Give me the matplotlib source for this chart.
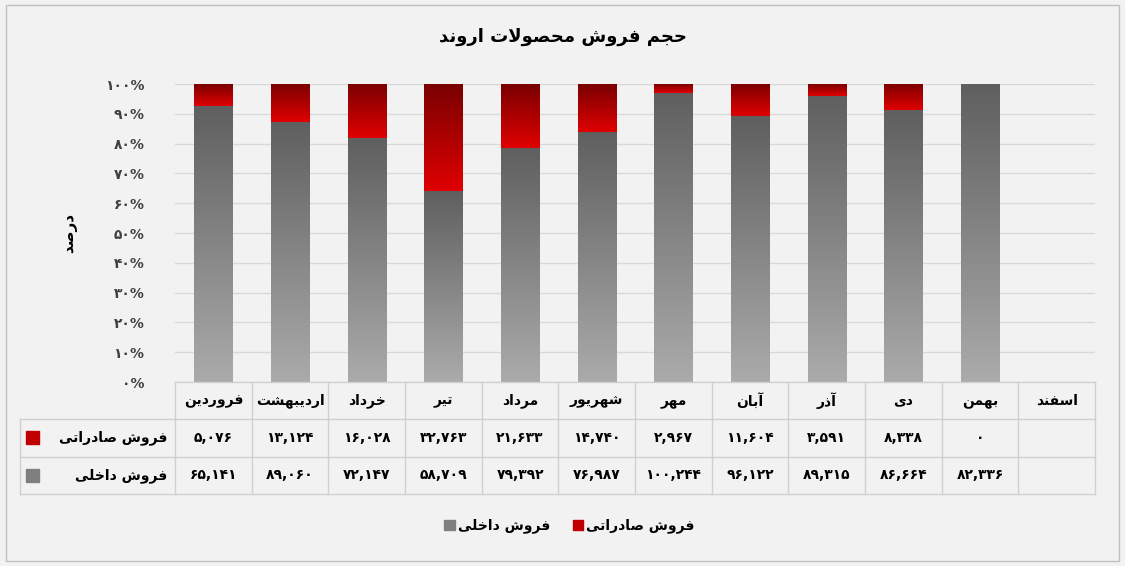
import numpy as np
import matplotlib.pyplot as plt
from matplotlib.patches import Rectangle
from matplotlib.colors import LinearSegmentedColormap

plt.rcParams['font.family'] = ['DejaVu Sans']

months = ['فروردین', 'اردیبهشت', 'خرداد', 'تیر', 'مرداد', 'شهریور',
          'مهر', 'آبان', 'آذر', 'دی', 'بهمن', 'اسفند']
export = [5076, 13124, 16028, 32763, 21633, 14740, 2967, 11604, 3591, 8338, 0, None]
domestic = [65141, 89060, 72147, 58709, 79392, 76987, 100244, 96122, 89315, 86664, 82336, None]

# simple persian shaping: presentation forms (isol, fina, init, medi)
FORMS = {
    'ا': (0xFE8D, 0xFE8E), 'آ': (0xFE81, 0xFE82), 'د': (0xFEA9, 0xFEAA), 'ذ': (0xFEAB, 0xFEAC),
    'ر': (0xFEAD, 0xFEAE), 'ز': (0xFEAF, 0xFEB0), 'ژ': (0xFB8A, 0xFB8B), 'و': (0xFEED, 0xFEEE),
    'ب': (0xFE8F, 0xFE90, 0xFE91, 0xFE92), 'پ': (0xFB56, 0xFB57, 0xFB58, 0xFB59),
    'ت': (0xFE95, 0xFE96, 0xFE97, 0xFE98), 'ث': (0xFE99, 0xFE9A, 0xFE9B, 0xFE9C),
    'ج': (0xFE9D, 0xFE9E, 0xFE9F, 0xFEA0), 'چ': (0xFB7A, 0xFB7B, 0xFB7C, 0xFB7D),
    'ح': (0xFEA1, 0xFEA2, 0xFEA3, 0xFEA4), 'خ': (0xFEA5, 0xFEA6, 0xFEA7, 0xFEA8),
    'س': (0xFEB1, 0xFEB2, 0xFEB3, 0xFEB4), 'ش': (0xFEB5, 0xFEB6, 0xFEB7, 0xFEB8),
    'ص': (0xFEB9, 0xFEBA, 0xFEBB, 0xFEBC), 'ض': (0xFEBD, 0xFEBE, 0xFEBF, 0xFEC0),
    'ط': (0xFEC1, 0xFEC2, 0xFEC3, 0xFEC4), 'ظ': (0xFEC5, 0xFEC6, 0xFEC7, 0xFEC8),
    'ع': (0xFEC9, 0xFECA, 0xFECB, 0xFECC), 'غ': (0xFECD, 0xFECE, 0xFECF, 0xFED0),
    'ف': (0xFED1, 0xFED2, 0xFED3, 0xFED4), 'ق': (0xFED5, 0xFED6, 0xFED7, 0xFED8),
    'ک': (0xFB8E, 0xFB8F, 0xFB90, 0xFB91), 'گ': (0xFB92, 0xFB93, 0xFB94, 0xFB95),
    'ل': (0xFEDD, 0xFEDE, 0xFEDF, 0xFEE0), 'م': (0xFEE1, 0xFEE2, 0xFEE3, 0xFEE4),
    'ن': (0xFEE5, 0xFEE6, 0xFEE7, 0xFEE8), 'ه': (0xFEE9, 0xFEEA, 0xFEEB, 0xFEEC),
    'ی': (0xFBFC, 0xFBFD, 0xFBFE, 0xFBFF),
}


def shape_word(w):
    w = w.replace('لا', '\uE000')
    out = []
    for i, c in enumerate(w):
        prev = w[i - 1] if i > 0 else None
        nxt = w[i + 1] if i + 1 < len(w) else None
        joins_prev = prev is not None and prev in FORMS and len(FORMS[prev]) == 4
        if c == '\uE000':
            out.append(chr(0xFEFC if joins_prev else 0xFEFB))
            continue
        f = FORMS.get(c)
        if f is None:
            out.append(c)
            continue
        joins_next = len(f) == 4 and nxt is not None and (nxt in FORMS or nxt == '\uE000')
        if joins_prev and joins_next:
            out.append(chr(f[3]))
        elif joins_prev:
            out.append(chr(f[1]))
        elif joins_next:
            out.append(chr(f[2]))
        else:
            out.append(chr(f[0]))
    return ''.join(out)[::-1]


def fa(s):
    return ' '.join(shape_word(w) for w in s.split(' ')[::-1])


def fanum(n):
    s = '{:,}'.format(n)
    return s.translate(str.maketrans('0123456789', '۰۱۲۳۴۵۶۷۸۹'))


fig = plt.figure(figsize=(11.25, 5.66), dpi=100, facecolor='#f2f2f2')
fig.patches.append(Rectangle((0.005, 0.008), 0.99, 0.984, transform=fig.transFigure,
                             fill=False, edgecolor='#bfbfbf', lw=1))
ax = fig.add_axes([0.1556, 0.325, 0.8178, 0.5265])
ax.set_facecolor('#f2f2f2')

grey_cm = LinearSegmentedColormap.from_list('g', ['#ababab', '#5f5f5f'])
red_cm = LinearSegmentedColormap.from_list('r', ['#e00000', '#7a0000'])

n = len(months)
x = np.arange(n)
grad = np.linspace(0, 1, 256).reshape(-1, 1)
for i in range(n):
    if domestic[i] is None:
        continue
    tot = domestic[i] + export[i]
    d = domestic[i] / tot * 100
    b1 = ax.bar(x[i], d, 0.5, color='none')[0]
    b2 = ax.bar(x[i], 100 - d, 0.5, bottom=d, color='none')[0]
    im = ax.imshow(grad, extent=(x[i] - 0.25, x[i] + 0.25, 0, d), origin='lower',
                   cmap=grey_cm, aspect='auto', zorder=2)
    im.set_clip_path(b1)
    if 100 - d > 0:
        im2 = ax.imshow(grad, extent=(x[i] - 0.25, x[i] + 0.25, d, 100), origin='lower',
                        cmap=red_cm, aspect='auto', zorder=2)
        im2.set_clip_path(b2)

ax.set_xlim(-0.5, n - 0.5)
ax.set_ylim(0, 100)
ax.set_yticks(range(0, 101, 10))
ax.set_yticklabels([fanum(v) + '%' for v in range(0, 101, 10)], fontsize=10, fontweight='bold', color='#404040')
ax.set_xticks([])
ax.grid(axis='y', color='#d9d9d9', lw=1, zorder=0)
ax.set_axisbelow(True)
for s in ax.spines.values():
    s.set_visible(False)
ax.tick_params(axis='y', length=0, pad=22)
ax.set_ylabel(fa('درصد'), fontsize=11, fontweight='bold', labelpad=20)

# table
rh = 0.125
left = -2.52
lc = '#d0d0d0'
tr = ax.get_xaxis_transform()
for yy in [0, -rh, -2 * rh, -3 * rh]:
    ax.plot([left if yy < 0 else -0.5, n - 0.5], [yy, yy], transform=tr, color=lc, lw=1, clip_on=False)
for j in range(n + 1):
    ax.plot([j - 0.5, j - 0.5], [0, -3 * rh], transform=tr, color=lc, lw=1, clip_on=False)
ax.plot([left, left], [-rh, -3 * rh], transform=tr, color=lc, lw=1, clip_on=False)

for i in range(n):
    ax.text(x[i], -0.5 * rh, fa(months[i]), transform=tr, ha='center', va='center', fontsize=10, fontweight='bold')
    if export[i] is not None:
        ax.text(x[i], -1.5 * rh, fanum(export[i]), transform=tr, ha='center', va='center', fontsize=10, fontweight='bold')
        ax.text(x[i], -2.5 * rh, fanum(domestic[i]), transform=tr, ha='center', va='center', fontsize=10, fontweight='bold')

ax.text(-0.6, -1.5 * rh, fa('فروش صادراتی'), transform=tr, ha='right', va='center', fontsize=10, fontweight='bold')
ax.text(-0.6, -2.5 * rh, fa('فروش داخلی'), transform=tr, ha='right', va='center', fontsize=10, fontweight='bold')
ax.add_patch(Rectangle((-2.45, -1.5 * rh - 0.022), 0.17, 0.044, transform=tr, color='#c00000', clip_on=False))
ax.add_patch(Rectangle((-2.45, -2.5 * rh - 0.022), 0.17, 0.044, transform=tr, color='#7f7f7f', clip_on=False))

# legend
fig.patches.append(Rectangle((0.395, 0.063), 0.0095, 0.019, transform=fig.transFigure, color='#7f7f7f'))
fig.text(0.407, 0.072, fa('فروش داخلی'), ha='left', va='center', fontsize=10, fontweight='bold')
fig.patches.append(Rectangle((0.509, 0.063), 0.0095, 0.019, transform=fig.transFigure, color='#c00000'))
fig.text(0.521, 0.072, fa('فروش صادراتی'), ha='left', va='center', fontsize=10, fontweight='bold')

fig.text(0.5, 0.935, fa('حجم فروش محصولات اروند'), ha='center', va='center', fontsize=13, fontweight='bold')

fig.savefig('out.png', dpi=100, facecolor=fig.get_facecolor())
